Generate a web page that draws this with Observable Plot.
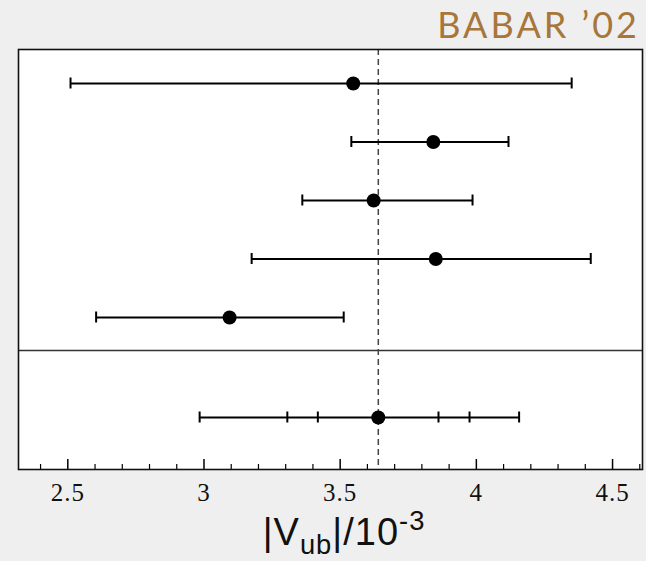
<!DOCTYPE html>
<html><head><meta charset="utf-8">
<script src="https://cdn.jsdelivr.net/npm/d3@7"></script>
<script src="https://cdn.jsdelivr.net/npm/@observablehq/plot@0.6"></script>
<style>
body{margin:0;background:#efefef;width:646px;height:561px;overflow:hidden;position:relative;}
#title{position:absolute;right:6px;top:2px;font-family:Lato,sans-serif;font-size:36px;color:#a8763a;letter-spacing:3px;line-height:44px;}
#chart{position:absolute;left:0;top:48px;}
#xlabel{position:absolute;left:0;width:688px;text-align:center;top:512px;font-family:"Liberation Sans",sans-serif;font-size:38px;line-height:40px;color:#111;letter-spacing:1px;white-space:nowrap;}
#xlabel sub{font-size:0.72em;vertical-align:-0.32em;line-height:0;}
#xlabel sup{font-size:0.72em;vertical-align:0.55em;line-height:0;}
#chart svg text{font-size:25px !important;font-family:"Liberation Serif",serif !important;letter-spacing:1px;}
</style></head>
<body>
<div id="title">BABAR ’02</div>
<div id="chart"></div>
<div id="xlabel">|V<sub>ub</sub>|/10<sup>-3</sup></div>
<script>
// Measurements (top to bottom)
const measurements = ["Measurement 1", "Measurement 2", "Measurement 3", "Measurement 4", "Measurement 5"];
const central = [3.548, 3.842, 3.623, 3.851, 3.094];
const errLow  = [2.510, 3.541, 3.361, 3.175, 2.604];
const errHigh = [4.350, 4.118, 3.986, 4.420, 3.513];
// Average with nested error bars (outer, middle, inner)
const average = 3.640;
const avgLow  = [2.984, 3.306, 3.418];
const avgHigh = [4.157, 3.975, 3.861];
// Axis
const majorTicks = [2.5, 3, 3.5, 4, 4.5];
const tickLabels = ["2.5", "3", "3.5", "4", "4.5"];
const xDomain = [2.319, 4.61];

// layout
const W = 646, H = 462, mT = 1, mB = 41, mL = 18, mR = 4;
const plotH = H - mT - mB;
const rowPx = 58.5;
const yTop = -34 / rowPx;
const yBottom = yTop + plotH / rowPx;
const sepY = 267 / rowPx;
const avgY = 334 / rowPx;
const capH = 5.5 / rowPx;

const rows = measurements.map((m, i) => ({m, y: i, c: central[i], lo: errLow[i], hi: errHigh[i]}));
const caps = rows.flatMap(r => [r.lo, r.hi].map(x => ({x, y: r.y})));
const avgCaps = avgLow.concat(avgHigh).map(x => ({x, y: avgY}));
const minorTicks = d3.range(24, 47).map(v => v / 10).filter(v => !majorTicks.some(t => Math.abs(t - v) < 1e-6));

const chart = Plot.plot({
  width: W, height: H,
  marginTop: mT, marginBottom: mB, marginLeft: mL, marginRight: mR,
  style: {background: "transparent", fontFamily: "Liberation Serif, serif", fontSize: "25px"},
  x: {domain: xDomain, axis: null},
  y: {domain: [yTop, yBottom], reverse: true, axis: null},
  marks: [
    Plot.frame({fill: "white", stroke: null}),
    Plot.ruleY([sepY], {stroke: "#333", strokeWidth: 1.5}),
    Plot.ruleX([average], {stroke: "#444", strokeWidth: 1.5, strokeDasharray: "6,4"}),
    Plot.link(rows, {x1: "lo", x2: "hi", y1: "y", y2: "y", stroke: "#000", strokeWidth: 1.8}),
    Plot.ruleX(caps, {x: "x", y1: d => d.y - capH, y2: d => d.y + capH, stroke: "#000", strokeWidth: 2}),
    Plot.dot(rows, {x: "c", y: "y", r: 7, fill: "#000", stroke: null}),
    Plot.link([{lo: avgLow[0], hi: avgHigh[0]}], {x1: "lo", x2: "hi", y1: () => avgY, y2: () => avgY, stroke: "#000", strokeWidth: 1.8}),
    Plot.ruleX(avgCaps, {x: "x", y1: d => d.y - capH, y2: d => d.y + capH, stroke: "#000", strokeWidth: 2}),
    Plot.dot([average], {x: d => d, y: () => avgY, r: 7, fill: "#000", stroke: null}),
    Plot.ruleX(majorTicks, {x: d => d, insetTop: plotH - 10, stroke: "#000", strokeWidth: 1.5}),
    Plot.ruleX(minorTicks, {x: d => d, insetTop: plotH - 5, stroke: "#000", strokeWidth: 1.2}),
    Plot.text(majorTicks, {x: d => d, text: (d, i) => tickLabels[i], frameAnchor: "bottom", dy: 23, lineAnchor: "middle", fontSize: 25, fill: "#111"}),
    Plot.frame({stroke: "#111", strokeWidth: 1.6})
  ]
});
document.getElementById("chart").appendChild(chart);
</script>
</body></html>
